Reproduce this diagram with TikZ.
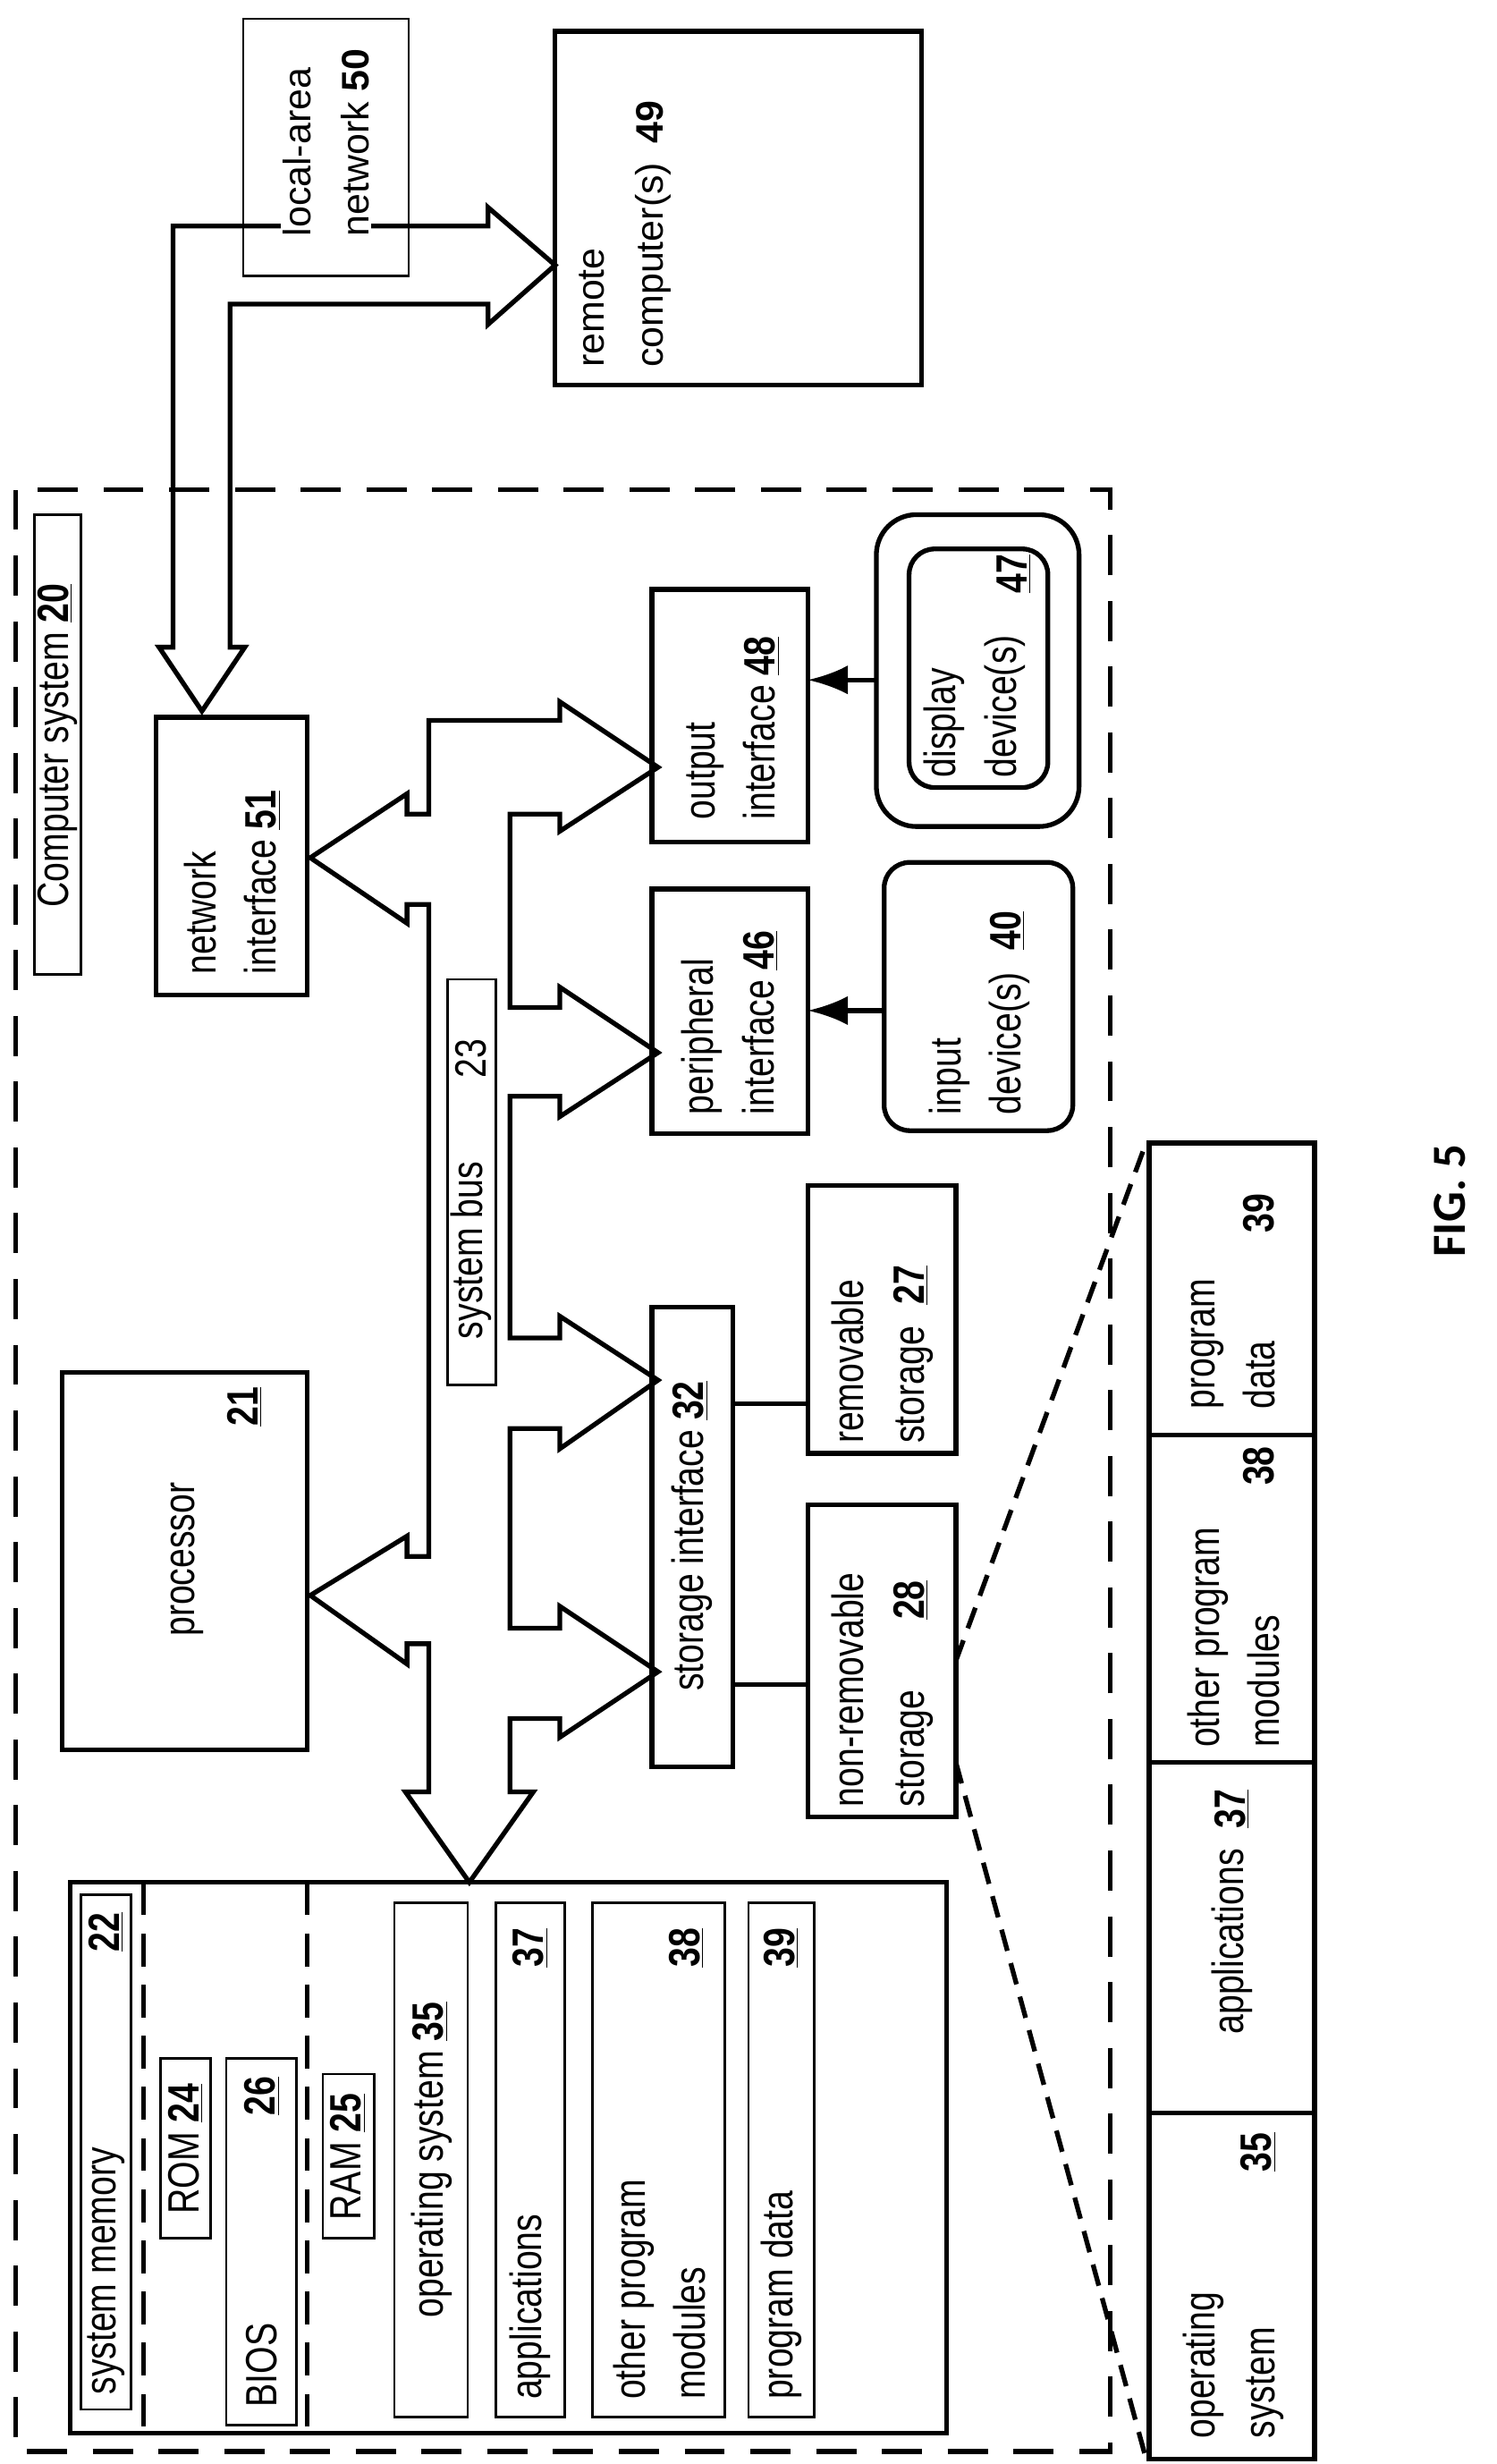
\documentclass[tikz,border=0pt]{standalone}
\usepackage{fontspec}
\setmainfont{Liberation Sans}[FakeStretch=0.8]
\newfontfamily\wide{Liberation Sans}
\newfontfamily\figf{Carlito}
\usetikzlibrary{fit,arrows.meta}
\newcommand\un[1]{\underline{\textbf{#1}}}
\begin{document}
\begin{tikzpicture}[x=0.3mm,y=-0.3mm,
  thk/.style={line width=2.6pt},
  thn/.style={line width=1.3pt},
  bx/.style={draw,thk,inner sep=0pt},
  bt/.style={draw,thn,inner sep=0pt},
  t/.style={rotate=90,inner sep=1pt,font=\fontsize{24}{33}\selectfont,align=left},
  tw/.style={rotate=90,inner sep=1pt,font=\wide\fontsize{21}{32}\selectfont,align=left}]
\useasboundingbox (0,0) rectangle (960,1580);
% outer dashed
\draw[thk,dash pattern=on 22pt off 14pt] (10,314) rectangle (712,1572);
% network hollow arrow
\draw[thk,line join=miter] (111,145) -- (313,145) -- (313,133) -- (356,170) -- (313,208) -- (313,195) -- (147.5,195) -- (147.5,415) -- (157,415) -- (129.5,456) -- (102,415) -- (111,415) -- cycle;
% system bus polygon
\draw[thk,line join=miter] (260,1149) -- (275,1149) -- (275,1054) -- (261,1054) -- (261,1067) -- (199,1023) -- (261,985) -- (261,998) -- (275,998) -- (275,580) -- (261,580) -- (261,592) -- (199,550) -- (261,509) -- (261,522) -- (275,522) -- (275,462) -- (359,462) -- (359,450) -- (422,492) -- (359,533) -- (359,522) -- (327,522) -- (327,646) -- (359,646) -- (359,633) -- (422,675) -- (359,716) -- (359,703) -- (327,703) -- (327,858) -- (359,858) -- (359,844) -- (422,885) -- (359,929) -- (359,916) -- (327,916) -- (327,1044) -- (359,1044) -- (359,1030) -- (422,1072) -- (359,1114) -- (359,1102) -- (327,1102) -- (327,1149) -- (342,1149) -- (301,1207) -- cycle;
% top boxes
\node[bt,fit={(156,12)(262,177)}] (lan) {};
\node[tw,anchor=west,fill=white] (lant) at (209,153) {local-area\\network \textbf{50}};
\node[bx,fit={(356,20)(591,247)}] (rem) {};
\node[tw,anchor=west] (remt) at (401,237) {remote\\computer(s)\enspace\textbf{49}};
% computer system label
\node[bt,fit={(22,330)(52,625)}] (cs) {};
\node[t] (cst) at (37,478) {Computer system \un{20}};
% processor
\node[bx,fit={(40,880)(197,1122)}] (proc) {};
\node[t] (proct) at (120,1000) {processor};
\node[t] (procn) at (157,902) {\un{21}};
% network interface
\node[bx,fit={(100,460)(197,638)}] (ni) {};
\node[t,anchor=west] (nit) at (149,626) {network\\interface \un{51}};
% system bus
\node[bt,fit={(287,628)(318,888)}] (sb) {};
\node[t,anchor=west] (sbt) at (302,860) {system bus};
\node[t,anchor=east] (sbn) at (302,665) {23};
% output interface
\node[bx,fit={(418,378)(518,540)}] (oi) {};
\node[t,anchor=west] (oit) at (470,527) {output\\interface \un{48}};
% peripheral
\node[bx,fit={(418,570)(518,727)}] (pi) {};
\node[t,anchor=west] (pit) at (468,716) {peripheral\\interface \un{46}};
% storage interface
\node[bx,fit={(418,838)(470,1133)}] (si) {};
\node[t] (sit) at (444,985) {storage interface \un{32}};
% removable
\node[bx,fit={(518,760)(613,932)}] (rs) {};
\node[t,anchor=west] (rst) at (566,927) {removable\\storage\enspace\un{27}};
\node[bx,fit={(518,965)(613,1165)}] (nrs) {};
\node[t,anchor=west] (nrst) at (566,1160) {non-removable\\storage\hspace{1.6em}\un{28}};
\coordinate (s1) at (470,900); \coordinate (r1) at (518,900);
\coordinate (s2) at (470,1080); \coordinate (r2) at (518,1080);
\draw[thk] (s1) -- (r1);
\draw[thk] (s2) -- (r2);
% input
\node[bx,rounded corners=14pt,fit={(567,553)(688,725)}] (in) {};
\node[t,anchor=west] (int) at (628,716) {input\\device(s)\enspace\un{40}};
% display
\node[bx,rounded corners=22pt,fit={(562,330)(692,530)}] (disp) {};
\node[bx,rounded corners=14pt,fit={(583,352)(672,505)}] (dispi) {};
\node[t,anchor=west] (dispt) at (625,500) {display\\device(s)};
\node[t] (dispn) at (650,368) {\un{47}};
\coordinate (ia) at (567,648); \coordinate (pa) at (518,648);
\coordinate (da) at (562,436); \coordinate (oa) at (518,436);
\draw[thk,-{Latex[length=22pt,width=16pt]}] (ia) -- (pa);
\draw[thk,-{Latex[length=22pt,width=16pt]}] (da) -- (oa);
% memory
\node[bx,fit={(45,1207)(607,1560)}] (mem) {};
\draw[thk,dash pattern=on 18pt off 10pt] (92,1207) -- (92,1560);
\draw[thk,dash pattern=on 18pt off 10pt] (197,1207) -- (197,1560);
\node[bt,fit={(52,1215)(84,1545)}] (smb) {};
\node[t,anchor=west] (smt) at (68,1537) {system memory};
\node[t,anchor=east] (smn) at (68,1225) {\un{22}};
\node[bt,fit={(103,1320)(135,1435)}] (rom) {};
\node[t] (romt) at (119,1378) {ROM \un{24}};
\node[bt,fit={(145,1320)(190,1555)}] (bios) {};
\node[t,anchor=west] (biost) at (168,1545) {BIOS};
\node[t,anchor=east] (biosn) at (168,1330) {\un{26}};
\node[bt,fit={(207,1330)(240,1435)}] (ram) {};
\node[t] (ramt) at (223,1383) {RAM \un{25}};
\node[bt,fit={(253,1220)(300,1550)}] (os) {};
\node[t] (ost) at (277,1385) {operating system \un{35}};
\node[bt,fit={(318,1220)(362,1550)}] (app) {};
\node[t,anchor=west] (appt) at (340,1540) {applications};
\node[t,anchor=east] (appn) at (340,1235) {\un{37}};
\node[bt,fit={(380,1220)(465,1550)}] (opm) {};
\node[t,anchor=west] (opmt) at (423,1540) {other program\\modules};
\node[t,anchor=east] (opmn) at (440,1235) {\un{38}};
\node[bt,fit={(480,1220)(522,1550)}] (pd) {};
\node[t,anchor=west] (pdt) at (501,1540) {program data};
\node[t,anchor=east] (pdn) at (501,1235) {\un{39}};
% bottom table
\node[bx,fit={(737,733)(843,920)}] (c4) {};
\node[bx,fit={(737,920)(843,1130)}] (c3) {};
\node[bx,fit={(737,1130)(843,1355)}] (c2) {};
\node[bx,fit={(737,1355)(843,1577)}] (c1) {};
\node[t,anchor=west] (c1t) at (791,1565) {operating\\system};
\node[t] (c1n) at (807,1380) {\un{35}};
\node[t] (c2t) at (790,1245) {applications};
\node[t] (c2n) at (790,1160) {\un{37}};
\node[t,anchor=west] (c3t) at (791,1122) {other program\\modules};
\node[t] (c3n) at (807,940) {\textbf{38}};
\node[t,anchor=west] (c4t) at (791,905) {program\\data};
\node[t] (c4n) at (807,778) {\textbf{39}};
\coordinate (n1) at (613,1065); \coordinate (n2) at (613,1130);
\draw[thk,dash pattern=on 12pt off 7pt] (n1) -- (c4.north west);
\draw[thk,dash pattern=on 12pt off 7pt] (n2) -- (c1.south west);
\node[rotate=90,font=\figf\bfseries\fontsize{26}{30}\selectfont] (fig) at (930,770) {FIG. 5};
\end{tikzpicture}
\end{document}
